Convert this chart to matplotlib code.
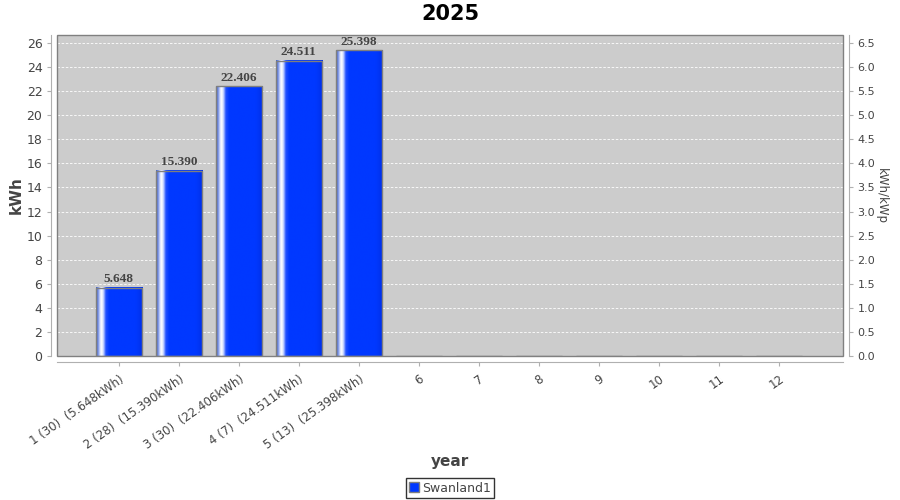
"""
plot.py — monthly yield bar chart (2025)
"""

import numpy as np
import matplotlib
matplotlib.use("Agg")
import matplotlib.pyplot as plt
from matplotlib.colors import LinearSegmentedColormap
from matplotlib.patches import Patch, Rectangle

months = ["1", "2", "3", "4", "5", "6", "7", "8", "9", "10", "11", "12"]
days = [30, 28, 30, 7, 13, None, None, None, None, None, None, None]
kwh = [5.648, 15.390, 22.406, 24.511, 25.398, 0, 0, 0, 0, 0, 0, 0]
kwp = 4.0
series_name = "Swanland1"
title = "2025"

tick_labels = []
for m, d, v in zip(months, days, kwh):
    if d is None:
        tick_labels.append(m)
    else:
        tick_labels.append(f"{m} ({d})  ({v:.3f}kWh)")

TXT = "#444444"
AXC = "#b0b0b0"
YMAX = 26.66

fig = plt.figure(figsize=(9, 5), dpi=100)
ax = fig.add_axes([0.0633, 0.288, 0.8734, 0.642])
ax2 = ax.twinx()   # secondary axis: kWh per kWp
ax.set_facecolor("#cccccc")

# spines first: moving a spine resets the ticks
for s in ["left", "bottom"]:
    ax.spines[s].set_position(("outward", 4))
    ax.spines[s].set_color(AXC)
ax.spines["top"].set_visible(False)
ax.spines["right"].set_visible(False)
for s in ["left", "top", "bottom"]:
    ax2.spines[s].set_visible(False)
ax2.spines["right"].set_position(("outward", 4))
ax2.spines["right"].set_color(AXC)

x = np.arange(len(months))
bars = ax.bar(x, kwh, width=0.77, color="none", edgecolor="#7f7f7f",
              linewidth=1.0, zorder=3)

# bar shading: white highlight near the left edge
grad = LinearSegmentedColormap.from_list("bar", [
    (0.00, "#4060c0"), (0.05, "#8098e8"), (0.09, "#e0e8ff"),
    (0.12, "#ffffff"), (0.16, "#c0d0ff"), (0.21, "#2050ff"),
    (0.28, "#0038ff"), (0.85, "#0038ff"), (1.00, "#0030e8")])
g = np.linspace(0, 1, 256).reshape(1, -1)
for b in bars:
    if b.get_height() <= 0:
        continue
    x0, w, h = b.get_x(), b.get_width(), b.get_height()
    ax.imshow(g, cmap=grad, aspect="auto", extent=(x0, x0 + w, 0, h),
              zorder=2, interpolation="bilinear")
    ax.text(x0 + w / 2, h + 0.22, f"{h:.3f}", ha="center", va="bottom",
            fontsize=9.5, fontweight="bold", family="Liberation Serif",
            color=TXT, zorder=4)

ax.set_xlim(-1.03, 12.07)
ax.set_ylim(0, YMAX)
ax.set_yticks(np.arange(0, 27, 2))
ax.yaxis.grid(True, color="white", linestyle=(0, (3, 2)), linewidth=0.6)
ax.set_axisbelow(True)

ax.set_xticks(x)
ax.set_xticklabels(tick_labels, rotation=35, ha="right",
                   rotation_mode="anchor", fontsize=8.5, color=TXT)
ax.tick_params(axis="y", labelsize=9, labelcolor=TXT, color=AXC, length=3)
ax.tick_params(axis="x", color=AXC, length=3, pad=5)

ax.add_patch(Rectangle((0, 0), 1, 1, transform=ax.transAxes, fill=False,
                       edgecolor="#808080", linewidth=1.0, zorder=5,
                       clip_on=False))

ax.set_ylabel("kWh", fontsize=11, fontweight="bold", color=TXT, labelpad=2)
ax.set_xlabel("year", fontsize=11, fontweight="bold", color=TXT)
ax.xaxis.set_label_coords(0.5, -0.305)

ax2.set_ylim(0, YMAX / kwp)
r_ticks = np.arange(0, 6.6, 0.5)
ax2.set_yticks(r_ticks)
ax2.set_yticklabels([f"{v:.1f}" for v in r_ticks])
ax2.tick_params(axis="y", labelsize=8, labelcolor=TXT, color=AXC, length=3)
ax2.set_ylabel("kWh/kWp", fontsize=8.5, color=TXT, rotation=270,
               labelpad=9)

fig.suptitle(title, fontsize=15, fontweight="bold", y=0.993)

leg = fig.legend(handles=[Patch(facecolor="#0038ff", edgecolor="#7f7f7f",
                                label=series_name)],
                 loc="center", bbox_to_anchor=(0.5, 0.024), fontsize=9,
                 frameon=True, fancybox=False, edgecolor="black",
                 handlelength=0.8, handleheight=0.8, handletextpad=0.3,
                 borderpad=0.25, borderaxespad=0)
leg.get_frame().set_linewidth(1.0)
for t in leg.get_texts():
    t.set_color(TXT)

plt.savefig("out.png", dpi=100)
plt.close()
